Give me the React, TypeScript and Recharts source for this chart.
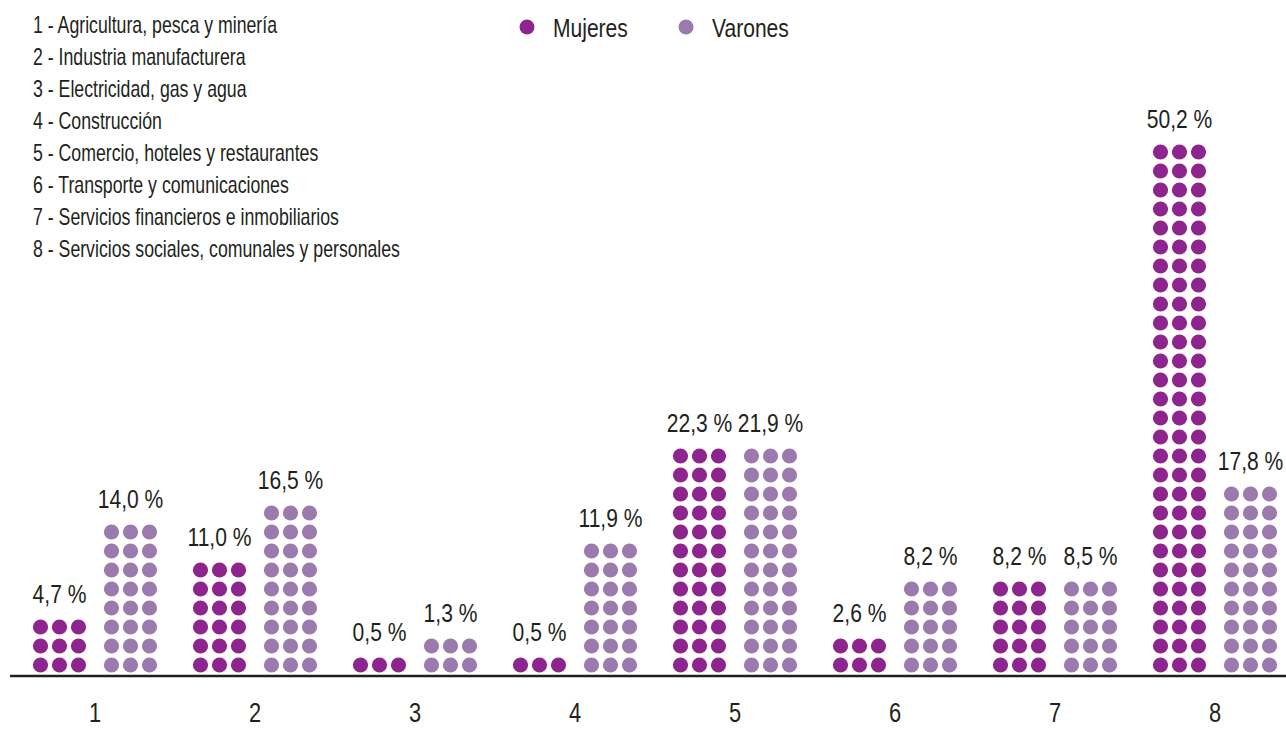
import React from 'react';
import { BarChart, Bar, XAxis, YAxis, LabelList } from 'recharts';

const sectors = ['1', '2', '3', '4', '5', '6', '7', '8'];
const sectorNames = [
  '1 - Agricultura, pesca y minería',
  '2 - Industria manufacturera',
  '3 - Electricidad, gas y agua',
  '4 - Construcción',
  '5 - Comercio, hoteles y restaurantes',
  '6 - Transporte y comunicaciones',
  '7 - Servicios financieros e inmobiliarios',
  '8 - Servicios sociales, comunales y personales',
];
const mujeresPct = [4.7, 11.0, 0.5, 0.5, 22.3, 2.6, 8.2, 50.2];
const varonesPct = [14.0, 16.5, 1.3, 11.9, 21.9, 8.2, 8.5, 17.8];
// rows of dots drawn for each column
const mujeresDots = [3, 6, 1, 1, 12, 2, 5, 28];
const varonesDots = [8, 9, 2, 7, 12, 5, 5, 10];

const MUJ = '#8e258e';
const VAR = '#9b7bad';
const INK = '#231f20';
const FONT = "'Liberation Sans', Arial, sans-serif";
const SQUEEZE = 0.81;

const data = sectors.map((s, i) => ({
  sector: s,
  mujeres: mujeresDots[i],
  varones: varonesDots[i],
  mujeresPct: mujeresPct[i],
  varonesPct: varonesPct[i],
}));

const fmt = (v: any) => Number(v).toFixed(1).replace('.', ',') + ' %';

// condensed look: regular face squeezed horizontally
function NarrowText({ x, y, size = 26, sx = SQUEEZE, anchor = 'start', children }: any) {
  return (
    <text
      transform={`translate(${x},${y}) scale(${sx},1)`}
      fontSize={size}
      fontFamily={FONT}
      fill={INK}
      textAnchor={anchor}
    >
      {children}
    </text>
  );
}

function DotColumn(props: any) {
  const { x, y, width, height, fill, rows } = props;
  if (!rows || !height) return null;
  const pitch = height / rows;
  const cx = x + width / 2;
  const dots = [];
  for (let k = 0; k < rows; k++) {
    for (let c = -1; c <= 1; c++) {
      dots.push(
        <circle
          key={`${k}-${c}`}
          cx={cx + c * pitch}
          cy={y + height - pitch * (k + 0.5) - 1.5}
          r={pitch * 0.4}
          fill={fill}
        />
      );
    }
  }
  return <g>{dots}</g>;
}

function PctLabel(props: any) {
  const { x, y, width, value } = props;
  return (
    <NarrowText x={x + width / 2} y={y - 16} anchor="middle">
      {fmt(value)}
    </NarrowText>
  );
}

function SectorTick(props: any) {
  const { x, payload } = props;
  return (
    <NarrowText x={x} y={722} size={27} anchor="middle">
      {payload.value}
    </NarrowText>
  );
}

function Header() {
  return (
    <svg width={1286} height={270} style={{ position: 'absolute', left: 0, top: 0 }}>
      {sectorNames.map((n, i) => (
        <NarrowText key={n} x={33} y={33 + 32 * i} size={23} sx={0.77}>
          {n}
        </NarrowText>
      ))}
      <circle cx={527} cy={27} r={7.5} fill={MUJ} />
      <NarrowText x={553} y={37}>Mujeres</NarrowText>
      <circle cx={686} cy={27} r={7.5} fill={VAR} />
      <NarrowText x={712} y={37}>Varones</NarrowText>
    </svg>
  );
}

export default function App() {
  return (
    <div style={{ position: 'absolute', left: 0, top: 0, width: 1286, height: 732, overflow: 'hidden', background: '#fff' }}>
      <BarChart
        width={1300}
        height={732}
        data={data}
        margin={{ top: 106, right: 5, bottom: 16, left: 10 }}
        barSize={57}
        barGap={14}
      >
        <XAxis
          dataKey="sector"
          height={40}
          padding={{ left: 5, right: 0 }}
          axisLine={{ stroke: INK, strokeWidth: 2.5 }}
          tickLine={false}
          tick={<SectorTick />}
        />
        <YAxis hide domain={[0, 30]} />
        <Bar
          dataKey="mujeres"
          fill={MUJ}
          isAnimationActive={false}
          shape={(p: any) => <DotColumn {...p} rows={p.payload.mujeres} />}
        >
          <LabelList dataKey="mujeresPct" content={<PctLabel />} />
        </Bar>
        <Bar
          dataKey="varones"
          fill={VAR}
          isAnimationActive={false}
          shape={(p: any) => <DotColumn {...p} rows={p.payload.varones} />}
        >
          <LabelList dataKey="varonesPct" content={<PctLabel />} />
        </Bar>
      </BarChart>
      <Header />
    </div>
  );
}
